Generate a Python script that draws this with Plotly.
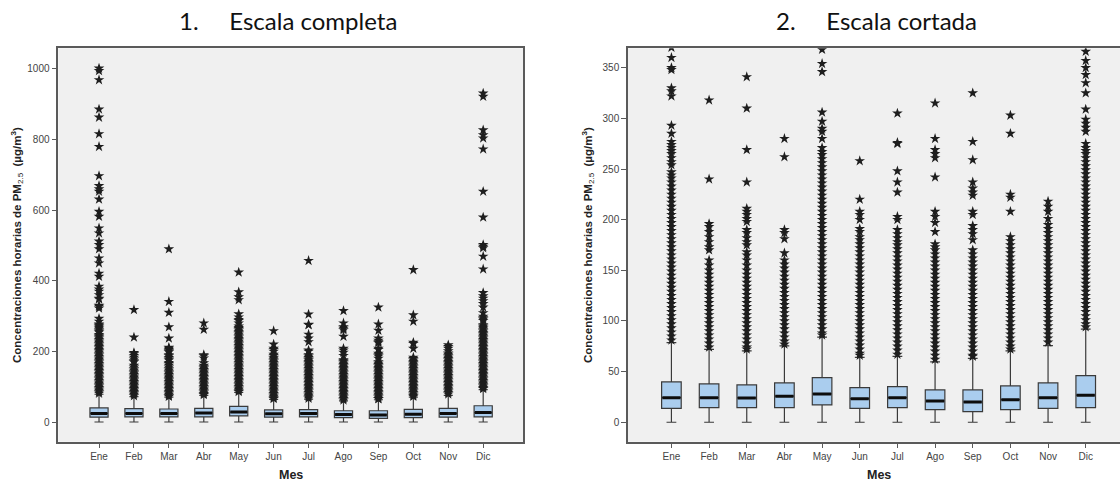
import plotly.graph_objects as go

W, H = 1120, 483

meses = ["Ene", "Feb", "Mar", "Abr", "May", "Jun", "Jul", "Ago", "Sep", "Oct", "Nov", "Dic"]

q1 = [13.8, 14.5, 14.5, 14.5, 17.1, 13.8, 14.5, 12.5, 10.5, 12.5, 13.8, 14.5]
mediana = [24.3, 24.3, 24.0, 25.7, 28.0, 23.3, 24.3, 21.0, 20.0, 22.3, 24.3, 26.7]
q3 = [39.8, 37.8, 36.9, 38.8, 44.0, 34.2, 35.2, 31.9, 31.9, 35.9, 38.8, 46.0]
bigote_sup = [78.6, 72.0, 70.5, 75.4, 84.0, 64.0, 65.0, 59.6, 63.0, 70.5, 75.7, 91.9]
bigote_inf = [0, 0, 0, 0, 0, 0, 0, 0, 0, 0, 0, 0]

atipicos_ene = [1002, 995, 969, 886, 863, 816, 780, 697, 669, 660, 653, 631, 596, 582, 549, 535, 512,
                502, 490, 464, 450, 421, 412, 384, 376, 370, 360, 350, 348, 330, 327, 322, 293, 285,
                277, 274, 271, 268, 265, 261, 257, 254, 247, 244, 241, 237, 233, 229, 225, 221, 217,
                213, 209, 205, 201, 197, 193, 189, 185, 181, 177, 173, 169, 165, 161, 157, 153, 149,
                145, 141, 137, 133, 129, 125, 121, 117, 113, 109, 105, 101, 97, 93, 89, 85, 81]
atipicos_feb = [318, 240, 196, 193, 188, 183, 178, 173, 170, 160, 155, 150, 146, 142, 138, 134, 130,
                126, 122, 118, 114, 110, 106, 102, 98, 94, 90, 86, 82, 78, 74]
atipicos_mar = [490, 341, 310, 269, 237, 211, 208, 205, 201, 198, 190, 187, 182, 178, 175, 168, 165,
                160, 155, 150, 146, 142, 138, 134, 130, 126, 122, 118, 114, 110, 106, 102, 98, 94, 90,
                86, 82, 78, 74, 72]
atipicos_abr = [280, 262, 190, 187, 181, 167, 160, 156, 152, 148, 144, 140, 136, 132, 128, 124, 120,
                116, 112, 108, 104, 100, 96, 92, 88, 84, 80, 77]
atipicos_may = [424, 368, 354, 346, 306, 297, 290, 287, 280, 271, 267, 264, 260, 256, 252, 248, 244,
                240, 236, 232, 228, 224, 220, 216, 212, 208, 204, 200, 196, 192, 188, 184, 180, 176,
                172, 168, 164, 160, 156, 152, 148, 144, 140, 136, 132, 128, 124, 120, 116, 112, 108,
                104, 100, 96, 92, 88, 86]
atipicos_jun = [258, 220, 208, 205, 200, 191, 188, 183, 180, 176, 172, 168, 164, 160, 156, 152, 148,
                144, 140, 136, 132, 128, 124, 120, 116, 112, 108, 104, 100, 96, 92, 88, 84, 80, 76,
                72, 68, 66]
atipicos_jul = [457, 305, 276, 275, 248, 237, 227, 203, 200, 190, 186, 182, 178, 175, 171, 167, 163,
                159, 155, 151, 147, 143, 139, 135, 131, 127, 123, 119, 115, 111, 107, 103, 99, 95, 91,
                87, 83, 79, 75, 71, 67]
atipicos_ago = [315, 280, 269, 265, 261, 242, 208, 203, 197, 188, 176, 173, 170, 166, 162, 158, 154,
                150, 146, 142, 138, 134, 130, 126, 122, 118, 114, 110, 106, 102, 98, 94, 90, 86, 82,
                78, 74, 70, 66, 62]
atipicos_sep = [325, 277, 259, 237, 231, 227, 224, 208, 205, 194, 190, 186, 180, 170, 166, 162, 158,
                154, 150, 146, 142, 138, 134, 130, 126, 122, 118, 114, 110, 106, 102, 98, 94, 90, 86,
                82, 78, 74, 70, 66, 65]
atipicos_oct = [431, 303, 285, 225, 222, 208, 183, 179, 175, 171, 167, 163, 159, 155, 151, 147, 143,
                139, 135, 131, 127, 123, 119, 115, 111, 107, 103, 99, 95, 91, 87, 83, 79, 75, 72]
atipicos_nov = [218, 213, 208, 201, 195, 191, 187, 183, 179, 175, 171, 167, 163, 159, 155, 151, 147,
                143, 139, 135, 131, 127, 123, 119, 115, 111, 107, 103, 99, 95, 91, 87, 83, 79]
atipicos_dic = [931, 922, 827, 813, 804, 773, 653, 580, 502, 497, 493, 469, 433, 366, 357, 350, 343,
                335, 325, 309, 299, 295, 291, 287, 275, 271, 268, 265, 261, 257, 253, 249, 245, 241,
                237, 233, 229, 225, 221, 217, 213, 209, 205, 201, 197, 193, 189, 185, 181, 177, 173,
                169, 165, 161, 157, 153, 149, 145, 141, 137, 133, 129, 125, 121, 117, 113, 109, 105,
                101, 97, 94]

atipicos = [atipicos_ene, atipicos_feb, atipicos_mar, atipicos_abr, atipicos_may, atipicos_jun,
            atipicos_jul, atipicos_ago, atipicos_sep, atipicos_oct, atipicos_nov, atipicos_dic]

ticks_completa = [0, 200, 400, 600, 800, 1000]
ticks_cortada = [0, 50, 100, 150, 200, 250, 300, 350]

titulos = ["1." + "\u00a0" * 5 + "Escala completa", "2." + "\u00a0" * 5 + "Escala cortada"]
titulo_y = "<b>Concentraciones horarias de PM</b><sub>2.5</sub><b>\u00a0\u00a0(\u00b5g/m<sup>3</sup>)</b>"
titulo_x = "<b>Mes</b>"

# ---------------- style ----------------
BOX_FILL = "#AACDEE"
BOX_LINE = "#3a3a3a"
FRAME = "#5a5a5a"
PLOT_BG = "#F0F0F0"
STAR = "#1e1e1e"
TICK_FONT = dict(family="Liberation Sans, Arial, sans-serif", size=10, color="#444444")
BOX_W = 0.52

pos = list(range(len(meses)))

fig = go.Figure()

panels = [("x", "y"), ("x2", "y2")]
for xa, ya in panels:
    fig.add_trace(go.Box(
        x=pos, q1=q1, median=mediana, q3=q3, lowerfence=bigote_inf, upperfence=bigote_sup,
        xaxis=xa, yaxis=ya, width=BOX_W, fillcolor=BOX_FILL,
        line=dict(color=BOX_LINE, width=1.2), whiskerwidth=0.5,
        boxpoints=False, showlegend=False, hoverinfo="skip"))
    mx, my = [], []
    for i, m in enumerate(mediana):
        mx += [i - BOX_W / 2 + 0.02, i + BOX_W / 2 - 0.02, None]
        my += [m, m, None]
    fig.add_trace(go.Scatter(x=mx, y=my, mode="lines", xaxis=xa, yaxis=ya,
                             line=dict(color="#0d0d0d", width=3), showlegend=False, hoverinfo="skip"))
    sx, sy = [], []
    for i, vals in enumerate(atipicos):
        sx += [i] * len(vals)
        sy += vals
    fig.add_trace(go.Scatter(x=sx, y=sy, mode="markers", xaxis=xa, yaxis=ya,
                             marker=dict(symbol="star", size=8, color=STAR, line=dict(width=0)),
                             showlegend=False, hoverinfo="skip"))

def px_x(p):
    return p / W

def px_y(p):
    return 1 - p / H

top, bottom = 48.3, 441.7
xl0, xl1 = 58.3, 523.0
xr0, xr1 = 628.0, 1120.0

axis_common = dict(showgrid=False, zeroline=False, showline=True, linecolor=FRAME, linewidth=1.5,
                   ticks="outside", ticklen=5, tickcolor=FRAME, tickwidth=1, tickfont=TICK_FONT)

fig.update_layout(
    width=W, height=H, margin=dict(l=0, r=0, t=0, b=0),
    paper_bgcolor="white", plot_bgcolor=PLOT_BG,
    xaxis=dict(domain=[px_x(xl0), px_x(xl1)], range=[-1.166, 12.14], anchor="y", mirror=True,
               tickvals=pos, ticktext=meses, **axis_common),
    yaxis=dict(domain=[px_y(bottom), px_y(top)], range=[-55.8, 1058.6], anchor="x", mirror=True,
               tickvals=ticks_completa, **axis_common),
    xaxis2=dict(domain=[px_x(xr0), px_x(xr1)], range=[-1.153, 11.91], anchor="y2", mirror=True,
                tickvals=pos, ticktext=meses, **axis_common),
    yaxis2=dict(domain=[px_y(bottom), px_y(top)], range=[-19.2, 369.2], anchor="x2", mirror=False,
                tickvals=ticks_cortada, **axis_common),
)

ann = []
for cx, txt in [(288, titulos[0]), (876, titulos[1])]:
    ann.append(dict(x=px_x(cx), y=px_y(20), xref="paper", yref="paper", text=txt, showarrow=False,
                    xanchor="center", yanchor="middle",
                    font=dict(family="Lato, Carlito, sans-serif", size=24, color="#111111")))
for cx in [290.5, 879]:
    ann.append(dict(x=px_x(cx), y=px_y(475), xref="paper", yref="paper", text=titulo_x, showarrow=False,
                    xanchor="center", yanchor="middle",
                    font=dict(family="Liberation Sans, Arial, sans-serif", size=12.5, color="#222222")))
for cx in [17, 588]:
    ann.append(dict(x=px_x(cx), y=px_y(245), xref="paper", yref="paper", text=titulo_y, showarrow=False,
                    textangle=-90, xanchor="center", yanchor="middle",
                    font=dict(family="Liberation Sans, Arial, sans-serif", size=11.5, color="#222222")))
fig.update_layout(annotations=ann)

fig.write_html("out.html", config={"displayModeBar": False},
               post_script="document.body.style.margin='0';document.body.style.overflow='hidden';")
